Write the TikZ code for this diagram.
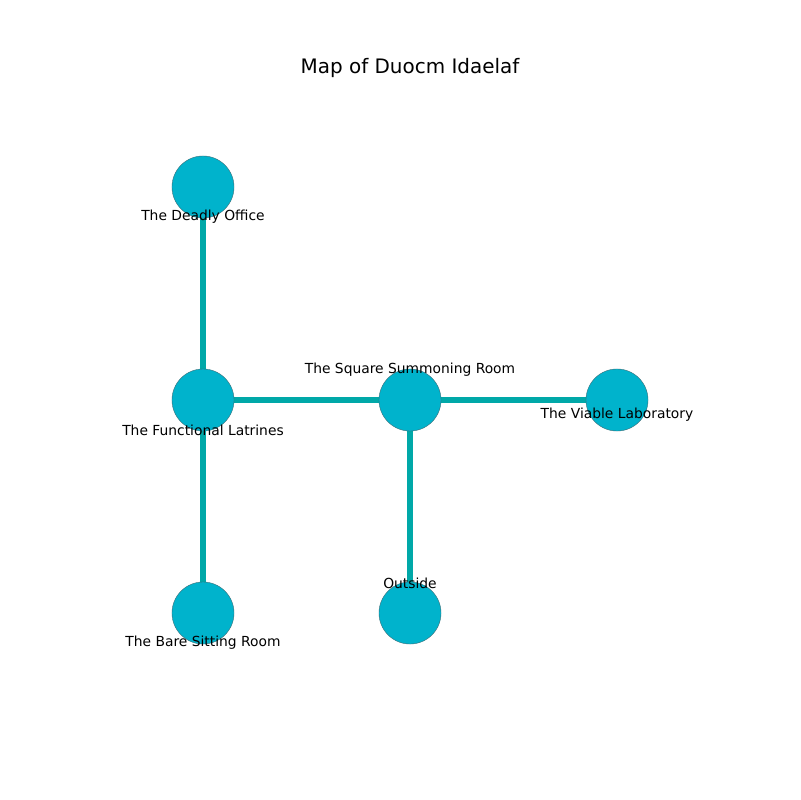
\documentclass[tikz,border=0pt]{standalone}
\usepackage{fontspec}
\setmainfont{DejaVu Sans}
\usepackage{tikz}
\usetikzlibrary{positioning,calc,backgrounds}
\definecolor{roomfill}{RGB}{0,179,204}
\definecolor{roomedge}{RGB}{60,110,120}
\definecolor{pathcol}{RGB}{0,168,168}

\tikzset{
    room/.style={circle, fill=roomfill, draw=roomedge, line width=0.3pt, minimum size=0.62in, inner sep=0pt},
    passage/.style={draw=pathcol, line width=3.8pt},
    roomlabel/.style={font=\fontsize{10}{12}\selectfont, inner sep=0pt}
}

\begin{document}
\begin{tikzpicture}[x=0.01in, y=-0.01in]
    % Canvas
    \useasboundingbox (0,0) rectangle (800,800);

    % Title
    \node[font=\fontsize{14.4}{17}\selectfont] (title) at (410,68) {Map of Duocm Idaelaf};

    % Rooms
    \node[room] (office) at (203,187) {};
    \node[room] (latrines) at (203,400) {};
    \node[room] (summoning) at (410,400) {};
    \node[room] (lab) at (617,400) {};
    \node[room] (sitting) at (203,613) {};
    \node[room] (outside) at (410,613) {};

    % Passages
    \begin{scope}[on background layer]
        \fill[white] (0,0) rectangle (800,800);
        \draw[passage] (office.center) -- (latrines.center);
        \draw[passage] (latrines.center) -- (summoning.center);
        \draw[passage] (summoning.center) -- (lab.center);
        \draw[passage] (latrines.center) -- (sitting.center);
        \draw[passage] (summoning.center) -- (outside.center);
    \end{scope}

    % Labels
    \node[roomlabel] (officelbl) at (203,217) {The Deadly Office};
    \node[roomlabel] (latrineslbl) at (203,430) {The Functional Latrines};
    \node[roomlabel] (summoninglbl) at (410,370) {The Square Summoning Room};
    \node[roomlabel] (lablbl) at (617,415) {The Viable Laboratory};
    \node[roomlabel] (sittinglbl) at (203,643) {The Bare Sitting Room};
    \node[roomlabel] (outsidelbl) at (410,583) {Outside};
\end{tikzpicture}
\end{document}
